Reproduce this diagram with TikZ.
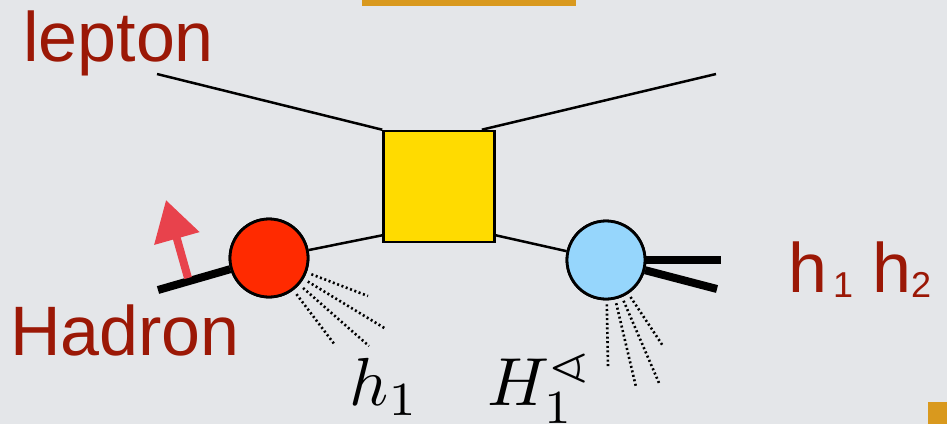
\documentclass[tikz,border=0pt]{standalone}
\usepackage{amssymb}
\usepackage{fontspec}
\newfontfamily\labfont{Liberation Sans}
\usetikzlibrary{arrows.meta}

\definecolor{bgcol}{RGB}{228,230,233}
\definecolor{barcol}{RGB}{217,153,30}
\definecolor{labred}{RGB}{155,24,6}
\definecolor{boxyel}{RGB}{255,219,0}
\definecolor{blobred}{RGB}{255,42,0}
\definecolor{blobblue}{RGB}{150,214,252}
\definecolor{spincol}{RGB}{232,66,76}

\newcommand{\subdigit}[1]{\raisebox{-5pt}{\fontsize{36}{36}\selectfont #1}}

\tikzset{
  lab/.style={inner sep=0pt, anchor=base west, text=labred,
    font=\labfont\fontsize{70}{72}\selectfont},
  mathlab/.style={inner sep=0pt, anchor=base west, scale=6.8},
  blob/.style={circle, draw=black, line width=2.8pt, minimum size=78pt, inner sep=0pt},
  hardbox/.style={rectangle, draw=black, line width=2.6pt, fill=boxyel,
    minimum size=111pt, inner sep=0pt},
  thin line/.style={line width=2.5pt, black},
  thick line/.style={line width=8pt, black},
  jet/.style={black, line width=2.6pt, dash pattern=on 2pt off 2.6pt},
}

\begin{document}
\begin{tikzpicture}[x=1pt, y=-1pt]
  % canvas
  \fill[bgcol] (0,0) rectangle (947,424);
  \useasboundingbox (0,0) rectangle (947,424);
  \fill[barcol] (362,0) rectangle (576,6);
  \fill[barcol] (928,402) rectangle (947,424);

  % hard scattering box and the two blobs
  \node[hardbox] (box) at (439,186.5) {};
  \node[blob, fill=blobred] (red) at (269,258) {};
  \node[blob, fill=blobblue] (blue) at (606,260) {};

  % free ends of the lines
  \coordinate (lin) at (157,74);
  \coordinate (lout) at (716,74);
  \coordinate (hin) at (158,290);
  \coordinate (hone) at (721,260);
  \coordinate (htwo) at (717,289);
  \coordinate (spinbase) at (188,278);
  \coordinate (spintip) at (166,200);

  % lepton lines
  \draw[thin line] (lin) -- (box.north west);
  \draw[thin line] ([xshift=-14pt]box.north east) -- (lout);
  % quark lines
  \draw[thin line] ([yshift=8pt]box.south west) -- (red);
  \draw[thin line] ([yshift=8pt]box.south east) -- (blue);

  % incoming hadron and outgoing hadron pair
  \draw[thick line] (hin) -- (red);
  \draw[thick line] (blue) -- (hone);
  \draw[thick line] (blue) -- (htwo);
  % blob outlines drawn again over the line ends
  \node[blob, fill=blobred] at (red) {};
  \node[blob, fill=blobblue] at (blue) {};

  % spin arrow
  \draw[spincol, line width=8pt,
        -{Triangle[width=45pt, length=40pt]}] (spinbase) -- (spintip);

  % fragmentation jets
  \coordinate (ra) at (368,296);
  \coordinate (rb) at (386,329);
  \coordinate (rc) at (369,346);
  \coordinate (rd) at (335,345);
  \foreach \e in {ra,rb,rc,rd}
    \draw[jet, shorten <=5pt] (red) -- (\e);
  \coordinate (ba) at (608,367);
  \coordinate (bb) at (636,387);
  \coordinate (bc) at (659,383);
  \coordinate (bd) at (663,346);
  \foreach \e in {ba,bb,bc,bd}
    \draw[jet, shorten <=4pt] (blue) -- (\e);

  % labels
  \node[lab] (tlepton) at (23,61) {lepton};
  \node[lab] (thadron) at (10,355) {Hadron};
  \node[lab] (tpair) at (788,292)
    {h\kern6pt\subdigit{1}\hspace{19pt}h\subdigit{2}};
  \node[mathlab] (th) at (348,405) {$h_1$};
  \node[mathlab] (tH) at (486,405) {$H_1^{\sphericalangle}$};
\end{tikzpicture}
\end{document}
